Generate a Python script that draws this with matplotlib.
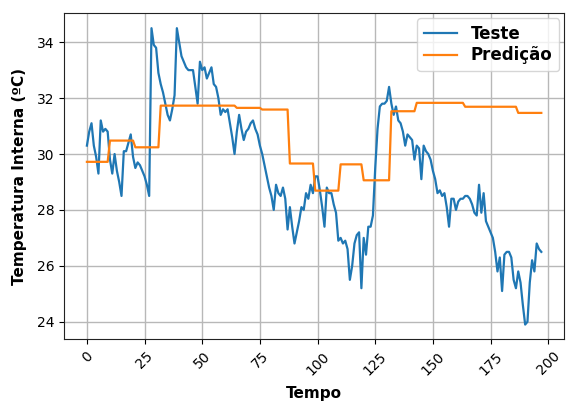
import matplotlib
matplotlib.use("Agg")
import matplotlib.pyplot as plt
import numpy as np

# Measured internal temperature (test set)
teste = [
    30.3, 30.8, 31.1, 30.3, 29.9, 29.3, 31.2, 30.8, 30.9, 30.8,
    29.8, 29.3, 30.0, 29.4, 29.0, 28.5, 30.1, 30.1, 30.4, 30.7,
    29.9, 29.5, 29.7, 29.6, 29.4, 29.2, 28.9, 28.5, 34.5, 33.9,
    33.8, 32.9, 32.5, 32.2, 31.8, 31.4, 31.2, 31.6, 32.1, 34.5,
    34.0, 33.5, 33.3, 33.1, 33.0, 33.0, 33.0, 32.4, 31.8, 33.3,
    33.0, 33.1, 32.7, 32.9, 33.1, 32.5, 32.4, 32.0, 31.4, 31.6,
    31.5, 31.6, 31.1, 30.6, 30.0, 30.8, 31.4, 30.9, 30.5, 30.8,
    30.9, 31.1, 31.2, 30.9, 30.7, 30.3, 30.0, 29.6, 29.2, 28.8,
    28.5, 28.0, 28.9, 28.6, 28.5, 28.8, 28.4, 27.3, 28.1, 27.4,
    26.8, 27.2, 27.6, 28.1, 28.0, 28.6, 28.4, 28.9, 28.6, 29.2,
    29.2, 28.7, 28.1, 27.4, 28.8, 28.6, 28.6, 28.2, 27.9, 26.9,
    27.0, 26.8, 26.9, 26.6, 25.5, 26.0, 26.8, 27.1, 27.2, 25.2,
    27.0, 26.4, 27.4, 27.4, 27.8, 29.5, 30.9, 31.7, 31.8, 31.8,
    31.9, 32.4, 31.8, 31.4, 31.7, 31.2, 31.1, 30.8, 30.3, 30.7,
    30.6, 30.5, 29.8, 30.3, 30.2, 29.1, 30.3, 30.1, 30.0, 29.8,
    29.4, 29.1, 28.6, 28.7, 28.5, 28.6, 28.1, 27.4, 28.4, 28.4,
    28.0, 28.3, 28.4, 28.4, 28.5, 28.5, 28.4, 28.2, 27.9, 27.8,
    28.9, 27.9, 28.6, 27.6, 27.4, 27.2, 27.0, 26.5, 25.8, 26.3,
    25.1, 26.4, 26.5, 26.5, 26.3, 25.5, 25.2, 25.8, 25.4, 24.6,
    23.9, 24.0, 25.4, 26.2, 25.8, 26.8, 26.6, 26.5,
]

# Model prediction: constant level held over each block of time steps
pred_levels = [29.72, 30.48, 30.24, 31.73, 31.65, 31.59, 29.66, 28.69,
               29.63, 29.06, 31.53, 31.83, 31.69, 31.47]
pred_lengths = [10, 11, 11, 33, 11, 12, 11, 11, 10, 12, 11, 21, 23, 11]
predicao = np.repeat(pred_levels, pred_lengths)

tempo = np.arange(len(teste))

fig = plt.figure(figsize=(5.68, 4.05), dpi=100)
ax = fig.add_axes([0.113, 0.162, 0.88, 0.805])

ax.plot(tempo, teste, color="#1f77b4", lw=1.6, label="Teste")
ax.plot(tempo, predicao, color="#ff7f0e", lw=1.6, label="Predição")

ax.set_xticks(np.arange(0, 201, 25))
ax.set_yticks(np.arange(24, 35, 2))
ax.grid(True, color="#b8b8b8", lw=1.0)
ax.tick_params(axis="x", labelrotation=45, labelsize=10)
ax.tick_params(axis="y", labelsize=10)
for spine in ax.spines.values():
    spine.set_color("#222222")

ax.set_xlabel("Tempo", fontsize=11, fontweight="bold", labelpad=6)
ax.set_ylabel("Temperatura Interna (ºC)", fontsize=11, fontweight="bold",
              labelpad=7)

leg = ax.legend(loc="upper right", prop={"size": 12, "weight": "bold"},
                handlelength=2.0, borderaxespad=0.3, labelspacing=0.2)

fig.savefig("out.png", dpi=100)
